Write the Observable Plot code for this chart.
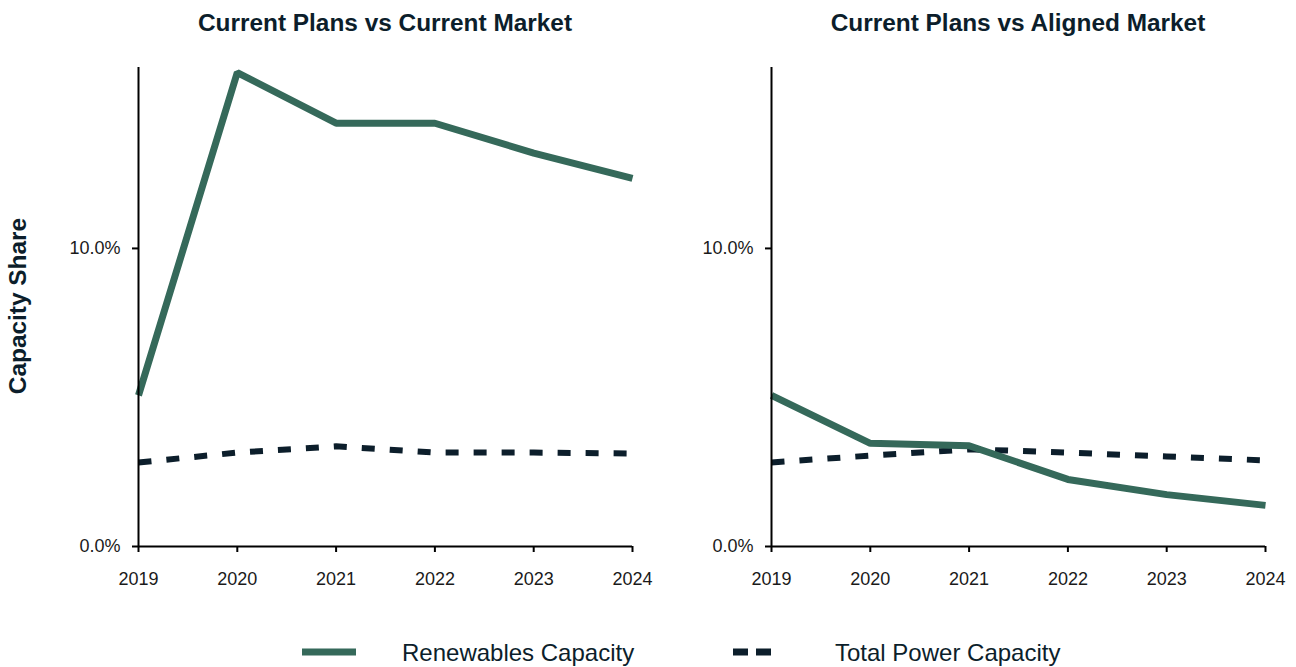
<!DOCTYPE html>
<html>
<head>
<meta charset="utf-8">
<script src="https://cdn.jsdelivr.net/npm/d3@7"></script>
<script src="https://cdn.jsdelivr.net/npm/@observablehq/plot@0.6"></script>
<style>
  html, body { margin: 0; padding: 0; background: #fff; }
  body { width: 1296px; height: 667px; position: relative; overflow: hidden; font-family: "Liberation Sans", Arial, sans-serif; color: #0c1e2b; }
  .panel { position: absolute; top: 0; }
  .title { position: absolute; top: 9px; font-weight: bold; font-size: 24.4px; text-align: center; transform: translateX(-50%); white-space: nowrap; color: #0c1e2b; }
  .ylabel { position: absolute; left: 18px; top: 306px; font-weight: bold; font-size: 24.4px; transform: translate(-50%, -50%) rotate(-90deg); white-space: nowrap; color: #0c1e2b; }
  .legend { position: absolute; top: 637px; left: 0; width: 1296px; height: 32px; }
  .legend .item { position: absolute; top: 0; font-size: 24px; line-height: 32px; white-space: nowrap; color: #0c1e2b; }
</style>
</head>
<body>
<div id="left" class="panel" style="left:0px"></div>
<div id="right" class="panel" style="left:633px"></div>
<div class="title" style="left:385px">Current Plans vs Current Market</div>
<div class="title" style="left:1018px">Current Plans vs Aligned Market</div>
<div class="ylabel">Capacity Share</div>
<div class="legend">
  <svg width="1296" height="32" style="position:absolute;left:0;top:0">
    <line x1="302" x2="356" y1="15" y2="15" stroke="#35695a" stroke-width="7"></line>
    <line x1="733" x2="771" y1="15" y2="15" stroke="#0c1e2b" stroke-width="7" stroke-dasharray="15,8"></line>
  </svg>
  <div class="item" style="left:402px">Renewables Capacity</div>
  <div class="item" style="left:835px">Total Power Capacity</div>
</div>
<script>
const years = [2019, 2020, 2021, 2022, 2023, 2024];
const yTicks = [0, 10];
const currentMarketRenewables = [5.07, 15.9, 14.2, 14.2, 13.2, 12.35];
const currentMarketTotal = [2.82, 3.15, 3.36, 3.15, 3.15, 3.12];
const alignedMarketRenewables = [5.07, 3.46, 3.38, 2.25, 1.74, 1.38];
const alignedMarketTotal = [2.82, 3.05, 3.26, 3.15, 3.02, 2.89];

const GREEN = "#35695a";
const DARK = "#0c1e2b";

function panel(renew, total) {
  const rData = years.map((y, i) => ({year: y, value: renew[i]}));
  const tData = years.map((y, i) => ({year: y, value: total[i]}));
  return Plot.plot({
    width: 663,
    height: 620,
    marginLeft: 138,
    marginRight: 31,
    marginTop: 67,
    marginBottom: 74,
    style: {fontFamily: "'Liberation Sans', Arial, sans-serif", fontSize: "18px", color: "#1a1a1a", background: "transparent", overflow: "visible"},
    x: {domain: [2019, 2024]},
    y: {domain: [0, 16.07]},
    marks: [
      Plot.line(tData, {x: "year", y: "value", stroke: DARK, strokeWidth: 6, strokeDasharray: "13,15", strokeLinecap: "butt", strokeLinejoin: "miter"}),
      Plot.line(rData, {x: "year", y: "value", stroke: GREEN, strokeWidth: 7, strokeLinecap: "butt", strokeLinejoin: "miter"}),
      Plot.axisX({ticks: years, tickFormat: d => String(d), tickSize: 6, tickPadding: 20, strokeWidth: 2, stroke: "#000", label: null, fontSize: 18}),
      Plot.axisY({ticks: yTicks, tickFormat: d => d.toFixed(1) + "%", tickSize: 6, tickPadding: 12, strokeWidth: 2, stroke: "#000", label: null, fontSize: 18}),
      Plot.ruleY([0], {stroke: "#000", strokeWidth: 2}),
      Plot.ruleX([2019], {stroke: "#000", strokeWidth: 2})
    ]
  });
}

document.getElementById("left").appendChild(panel(currentMarketRenewables, currentMarketTotal));
document.getElementById("right").appendChild(panel(alignedMarketRenewables, alignedMarketTotal));
</script>
</body>
</html>
